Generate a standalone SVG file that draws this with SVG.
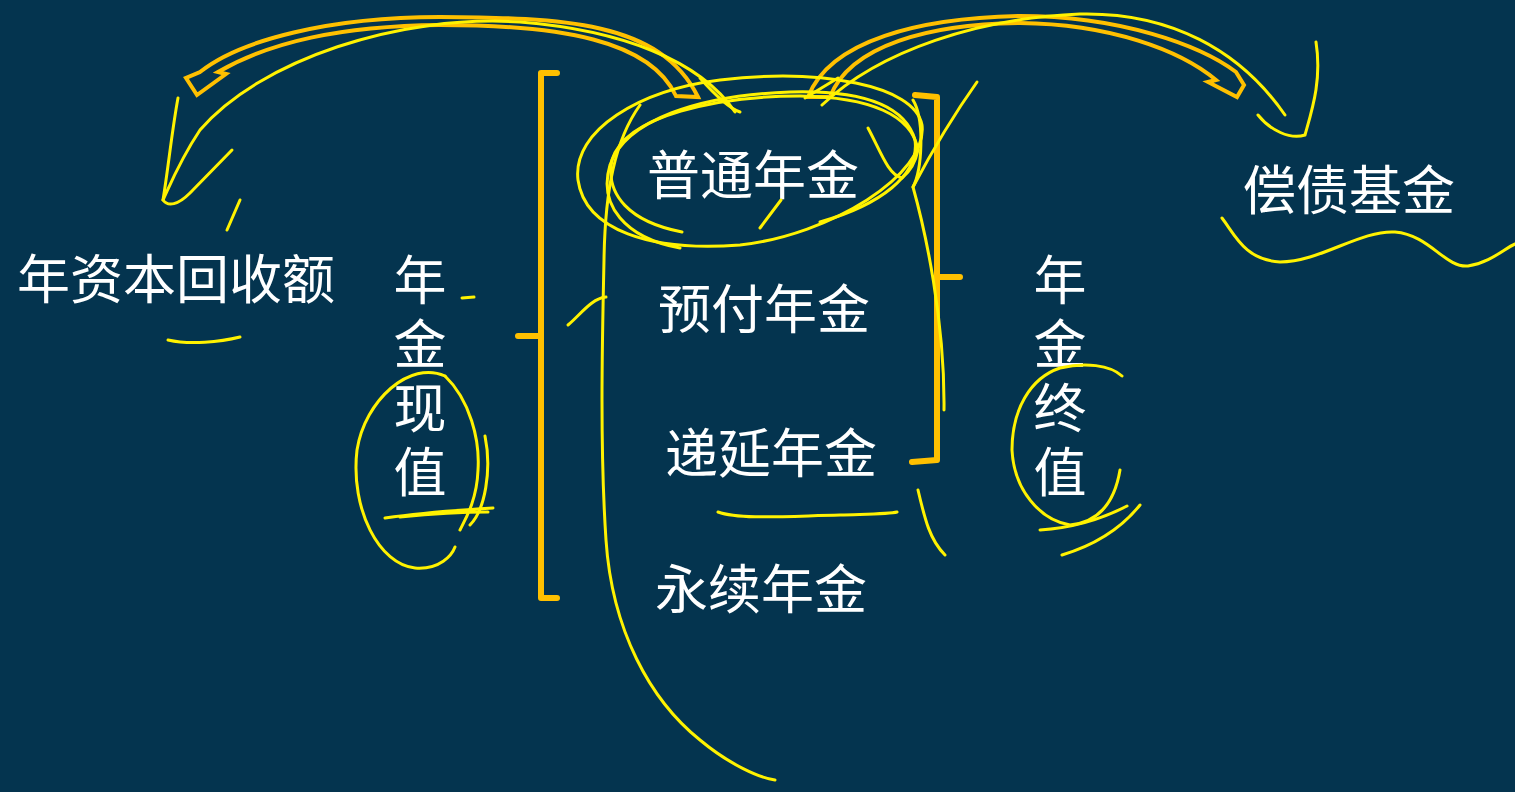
<svg xmlns="http://www.w3.org/2000/svg" width="1515" height="792" viewBox="0 0 1515 792">
<style>
.t{font-family:"Noto Sans CJK SC","Noto Sans",sans-serif;font-size:53px;fill:#FFFFFF;text-anchor:middle}
.br{fill:none;stroke:#FFC000;stroke-width:6;stroke-linecap:round;stroke-linejoin:round}
.ar{fill:none;stroke:#FFC000;stroke-width:4;stroke-linejoin:miter}
.y{fill:none;stroke:#FFF200;stroke-width:3;stroke-linecap:round;stroke-linejoin:round}
</style>
<rect width="1515" height="792" fill="#04344F"/>

<g id="brackets">
  <path class="br" d="M557,73 L541,73 L541,598 L557,598 M541,336 L518,336"/>
  <path class="br" d="M915,95 L937,97 L937,460 L912,462 M937,277 L960,277"/>
</g>

<g id="connectors">
  <path class="ar" d="M698,97 C660,20 560,18 440,17 C330,17 240,40 200,72 L186,78 L197,95 L226,74 L218,72 C270,42 340,26 440,25 C560,25 650,40 676,96 Z"/>
  <path class="ar" d="M808,97 C830,40 920,18 1020,16 C1120,16 1200,45 1236,72 L1244,85 L1237,97 L1208,82 L1216,80 C1180,50 1110,24 1020,23 C930,24 850,45 830,97 Z"/>
</g>

<g id="node-nianzibenhuishoue"><text class="t" x="176" y="299">年资本回收额</text></g>
<g id="node-nianjinxianzhi">
  <text class="t" x="420" y="300">年</text>
  <text class="t" x="420" y="364">金</text>
  <text class="t" x="420" y="428">现</text>
  <text class="t" x="420" y="492">值</text>
</g>
<g id="node-putong"><text class="t" x="753" y="195">普通年金</text></g>
<g id="node-yufu"><text class="t" x="764" y="329">预付年金</text></g>
<g id="node-diyan"><text class="t" x="771" y="473">递延年金</text></g>
<g id="node-yongxu"><text class="t" x="761" y="609">永续年金</text></g>
<g id="node-nianjinzhongzhi">
  <text class="t" x="1060" y="300">年</text>
  <text class="t" x="1060" y="364">金</text>
  <text class="t" x="1060" y="428">终</text>
  <text class="t" x="1060" y="492">值</text>
</g>
<g id="node-changzhai"><text class="t" x="1349" y="210">偿债基金</text></g>

<g id="annotations">
  <path class="y" d="M735,112 C700,60 620,30 520,22 C400,14 260,60 200,130 C180,160 170,185 163,200"/>
  <path class="y" d="M178,98 C172,130 168,170 163,200 C168,207 178,205 190,193 L232,150"/>
  <path class="y" d="M240,200 L227,230"/>
  <path class="y" d="M168,340 C190,345 220,342 240,337"/>
  <path class="y" d="M720,80 C820,68 915,85 922,125 C928,175 830,235 740,245 C650,252 585,230 578,180 C572,130 640,90 720,80"/>
  <path class="y" d="M680,248 C625,238 598,205 610,165 C625,120 700,95 790,92 C860,90 905,105 915,140 C920,175 880,205 820,222"/>
  <path class="y" d="M682,232 C630,222 605,195 612,160 C625,115 720,96 800,96 C870,97 912,115 918,150"/>
  <path class="y" d="M781,200 L760,228"/>
  <path class="y" d="M700,78 C715,95 728,108 740,112"/>
  <path class="y" d="M640,105 C615,140 605,190 604,260 C602,350 600,450 606,540 C612,630 650,700 700,740 C730,765 760,778 775,780"/>
  <path class="y" d="M568,325 C580,315 592,298 606,297"/>
  <path class="y" d="M868,128 C880,150 888,175 902,178 C912,170 916,160 918,150"/>
  <path class="y" d="M977,82 C950,120 930,155 913,187"/>
  <path class="y" d="M913,100 C925,120 922,170 913,187 C925,230 945,320 944,410"/>
  <path class="y" d="M838,78 L805,98"/>
  <path class="y" d="M718,512 C740,520 790,516 840,515 C870,514 890,514 897,512"/>
  <path class="y" d="M918,490 C925,520 930,540 945,555"/>
  <path class="y" d="M822,105 C880,50 980,18 1080,14 C1170,12 1240,50 1285,115"/>
  <path class="y" d="M1316,42 C1322,80 1312,110 1305,135 C1290,140 1270,130 1258,115"/>
  <path class="y" d="M1222,218 C1235,235 1245,260 1280,262 C1320,262 1360,230 1395,232 C1430,235 1445,268 1468,266 C1490,263 1505,248 1515,244"/>
  <path class="y" d="M445,376 C410,360 365,400 357,450 C350,510 380,565 415,568 C440,570 452,555 455,547"/>
  <path class="y" d="M445,376 C470,400 480,440 478,470 C477,500 465,520 460,530"/>
  <path class="y" d="M485,436 C492,470 485,510 470,525"/>
  <path class="y" d="M385,518 C420,513 460,510 493,508 M400,517 C430,514 470,512 488,512"/>
  <path class="y" d="M462,298 L474,297"/>
  <path class="y" d="M1122,376 C1110,365 1085,362 1060,368 C1030,378 1012,410 1012,450 C1014,490 1040,520 1070,525 C1100,522 1115,500 1120,470"/>
  <path class="y" d="M1040,530 C1070,528 1100,520 1127,506"/>
  <path class="y" d="M1062,555 C1095,545 1120,530 1140,505"/>
</g>
</svg>
